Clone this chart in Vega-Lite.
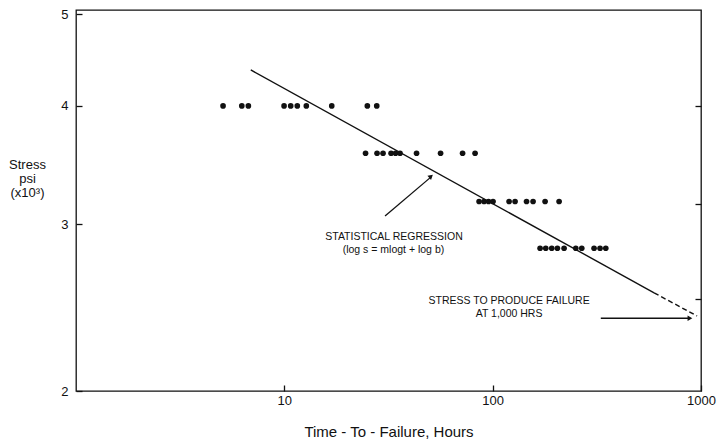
{
  "$schema": "https://vega.github.io/schema/vega-lite/v6.json",
  "width": 625,
  "height": 381,
  "autosize": {"type": "none"},
  "padding": {"left": 76, "top": 10, "right": 20, "bottom": 52},
  "background": "white",
  "config": {
    "view": {"stroke": "#111", "strokeWidth": 1.3},
    "font": "Liberation Sans",
    "axis": {"grid": false, "domain": false, "labelFlush": false, "tickColor": "#111", "tickWidth": 1.3, "labelColor": "#111", "titleColor": "#111", "labelFont": "Liberation Sans", "titleFont": "Liberation Sans", "titleFontWeight": "normal"}
  },
  "datasets": {
    "obs": [
      {"t": 5.08, "s": 4.0}, {"t": 6.25, "s": 4.0}, {"t": 6.72, "s": 4.0}, {"t": 9.97, "s": 4.0}, {"t": 10.73, "s": 4.0},
      {"t": 11.54, "s": 4.0}, {"t": 12.75, "s": 4.0}, {"t": 16.89, "s": 4.0}, {"t": 25.03, "s": 4.0}, {"t": 27.77, "s": 4.0},
      {"t": 24.54, "s": 3.565}, {"t": 27.86, "s": 3.565}, {"t": 29.77, "s": 3.565}, {"t": 32.53, "s": 3.565}, {"t": 34.19, "s": 3.565},
      {"t": 35.93, "s": 3.565}, {"t": 43.12, "s": 3.565}, {"t": 56.23, "s": 3.565}, {"t": 71.71, "s": 3.565}, {"t": 82.33, "s": 3.565},
      {"t": 86.05, "s": 3.17}, {"t": 90.93, "s": 3.17}, {"t": 95.56, "s": 3.17}, {"t": 100.4, "s": 3.17}, {"t": 119.9, "s": 3.17},
      {"t": 128.1, "s": 3.17}, {"t": 145.4, "s": 3.17}, {"t": 156.3, "s": 3.17}, {"t": 178.5, "s": 3.17}, {"t": 208.4, "s": 3.17},
      {"t": 168.9, "s": 2.83}, {"t": 179.8, "s": 2.83}, {"t": 192.1, "s": 2.83}, {"t": 204.5, "s": 2.83}, {"t": 220.2, "s": 2.83},
      {"t": 250.6, "s": 2.83}, {"t": 267.7, "s": 2.83}, {"t": 306.7, "s": 2.83}, {"t": 327.7, "s": 2.83}, {"t": 349.1, "s": 2.83}
    ],
    "fit_solid": [{"t": 6.9, "s": 4.365}, {"t": 595.6, "s": 2.539}],
    "fit_dashed": [{"t": 595.6, "s": 2.539}, {"t": 957.8, "s": 2.4}],
    "arrow1": [{"t": 30.44, "s": 3.06, "t2": 51.0, "s2": 3.37}],
    "head1": [{"t": 50.6, "s": 3.37}],
    "arrow2": [{"t": 330.4, "s": 2.387, "t2": 880, "s2": 2.387}],
    "head2": [{"t": 885, "s": 2.387}],
    "notes": [
      {"t": 33.6, "s": 2.911, "label": "STATISTICAL REGRESSION"},
      {"t": 33.4, "s": 2.821, "label": "(log s = mlogt + log b)"},
      {"t": 119.9, "s": 2.492, "label": "STRESS TO PRODUCE FAILURE"},
      {"t": 119.9, "s": 2.414, "label": "AT 1,000 HRS"}
    ]
  },
  "resolve": {"axis": {"y": "independent"}},
  "layer": [
    {
      "encoding": {
        "x": {"field": "t", "type": "quantitative", "scale": {"type": "log", "domain": [1, 1000], "nice": false},
          "axis": {"values": [10, 100, 1000], "format": "d", "tickSize": -6, "labelPadding": 9, "labelFontSize": 13,
            "title": "Time - To - Failure, Hours", "titleFontSize": 15, "titleY": 40, "titleBaseline": "middle"}},
        "y": {"field": "s", "type": "quantitative", "scale": {"type": "log", "domain": [2, 5.05], "nice": false},
          "axis": {"values": [2, 3, 4, 5], "format": "d", "tickSize": -6, "labelPadding": 14, "labelFontSize": 13,
            "title": ["Stress", "psi", "(x10³)"], "titleAngle": 0, "titleX": -49, "titleY": 154, "titleAlign": "center",
            "titleBaseline": "middle", "titleFontSize": 13, "titleLineHeight": 14}}
      },
      "layer": [
        {"data": {"name": "obs"}, "mark": {"type": "point", "filled": true, "color": "#111", "size": 32, "opacity": 1}},
        {"data": {"name": "fit_solid"}, "mark": {"type": "line", "color": "#111", "strokeWidth": 1.4}},
        {"data": {"name": "fit_dashed"}, "mark": {"type": "line", "color": "#111", "strokeWidth": 1.4, "strokeDash": [5, 3]}},
        {"data": {"name": "arrow1"}, "mark": {"type": "rule", "color": "#111", "strokeWidth": 1.3},
          "encoding": {"x2": {"field": "t2"}, "y2": {"field": "s2"}}},
        {"data": {"name": "head1"}, "mark": {"type": "point", "shape": "triangle-up", "angle": 49, "filled": true, "color": "#111", "size": 30, "opacity": 1}},
        {"data": {"name": "head2"}, "mark": {"type": "point", "shape": "triangle-right", "filled": true, "color": "#111", "size": 30, "opacity": 1}},
        {"data": {"name": "notes"}, "mark": {"type": "text", "fontSize": 10.5, "color": "#111", "align": "center", "baseline": "middle", "font": "Liberation Sans"},
          "encoding": {"text": {"field": "label"}}}
      ]
    },
    {
      "data": {"name": "arrow2"},
      "mark": {"type": "rule", "color": "#111", "strokeWidth": 1.3},
      "encoding": {
        "x": {"field": "t", "type": "quantitative", "scale": {"type": "log", "domain": [1, 1000], "nice": false},
          "axis": {"values": [10, 100, 1000], "format": "d", "tickSize": -6, "labelPadding": 9, "labelFontSize": 13,
            "title": "Time - To - Failure, Hours", "titleFontSize": 15, "titleY": 40, "titleBaseline": "middle"}},
        "x2": {"field": "t2"},
        "y": {"field": "s", "type": "quantitative", "scale": {"type": "log", "domain": [2, 5.05], "nice": false},
          "axis": {"orient": "right", "values": [2.5, 3.15, 4], "labels": false, "title": null, "tickSize": -6}}
      }
    }
  ]
}
